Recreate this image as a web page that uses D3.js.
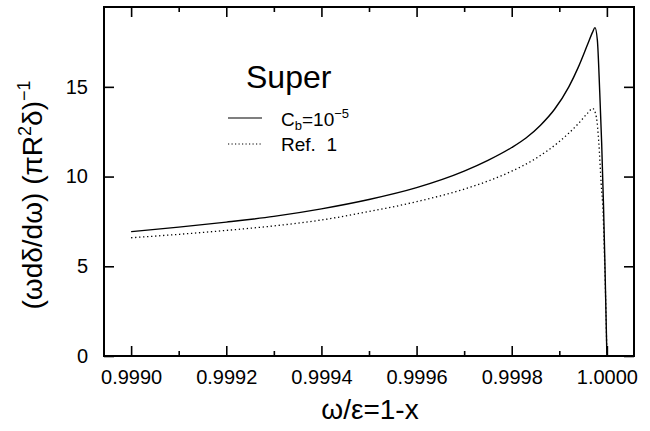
<!DOCTYPE html>
<html>
<head>
<meta charset="utf-8">
<style>
body { margin: 0; background: #fff; }
svg { font-family: "Liberation Sans", Arial, sans-serif; }
.axis .domain { display: none; }
.axis line { stroke: #000; stroke-width: 1.6; }
.axis text { font-size: 20px; fill: #000; }
</style>
</head>
<body>
<svg width="650" height="431"></svg>
<script src="https://d3js.org/d3.v7.min.js"></script>
<script>
// values
var solidX = [0.99900, 0.99910, 0.99920, 0.99930, 0.99940, 0.99950, 0.99960, 0.99970,
              0.99975, 0.99980, 0.99983, 0.99986, 0.99989, 0.99992, 0.99994, 0.99996,
              0.99997, 0.999975, 0.99998, 0.999985, 0.999989, 0.999993, 0.999996, 0.999998, 1.00000];
var solidY = [6.93, 7.18, 7.46, 7.78, 8.20, 8.72, 9.38, 10.30,
              10.90, 11.62, 12.15, 12.85, 13.75, 15.00, 16.10, 17.40,
              18.05, 18.30, 17.60, 14.70, 11.90, 8.30, 5.00, 2.50, 0];
var refX = [0.99900, 0.99910, 0.99920, 0.99930, 0.99940, 0.99950, 0.99960, 0.99970,
            0.99975, 0.99980, 0.99985, 0.99990, 0.99994, 0.99996, 0.99997, 0.999978,
            0.999983, 0.999988, 0.999992, 0.999995, 0.999998, 1.00000];
var refY = [6.59, 6.78, 7.00, 7.25, 7.58, 8.05, 8.60, 9.30,
            9.75, 10.30, 11.00, 11.95, 12.95, 13.55, 13.80, 13.30,
            11.90, 9.60, 8.00, 5.50, 2.50, 0];
var xMajor = [0.9990, 0.9992, 0.9994, 0.9996, 0.9998, 1.0000];
var xMinor = [0.9991, 0.9993, 0.9995, 0.9997, 0.9999];
var yMajor = [0, 5, 10, 15];

var svg = d3.select("svg"),
    margin = {top: 7, right: 16, bottom: 75, left: 104},
    width = +svg.attr("width") - margin.left - margin.right,
    height = +svg.attr("height") - margin.top - margin.bottom,
    g = svg.append("g").attr("transform", "translate(" + margin.left + "," + margin.top + ")");

var x = d3.scaleLinear().domain([0.998943, 1.000057]).range([0, width]);
var y = d3.scaleLinear().domain([0, 19.45]).range([height, 0]);

// frame
g.append("rect")
    .attr("width", width)
    .attr("height", height)
    .attr("fill", "none")
    .attr("stroke", "#000")
    .attr("stroke-width", 2);

g.append("g")
    .attr("class", "axis")
    .attr("transform", "translate(0," + height + ")")
    .call(d3.axisBottom(x).tickValues(xMajor).tickSize(-10).tickPadding(14)
      .tickFormat(d3.format(".4f")));
g.append("g")
    .attr("class", "axis")
    .attr("transform", "translate(0," + height + ")")
    .call(d3.axisBottom(x).tickValues(xMinor).tickSize(-5).tickFormat(""));
g.append("g")
    .attr("class", "axis")
    .call(d3.axisTop(x).tickValues(xMajor).tickSize(-10).tickFormat(""));
g.append("g")
    .attr("class", "axis")
    .call(d3.axisTop(x).tickValues(xMinor).tickSize(-5).tickFormat(""));
g.append("g")
    .attr("class", "axis")
    .call(d3.axisLeft(y).tickValues(yMajor).tickSize(-10).tickPadding(16));
g.append("g")
    .attr("class", "axis")
    .attr("transform", "translate(" + width + ",0)")
    .call(d3.axisRight(y).tickValues(yMajor).tickSize(-10).tickFormat(""));

var line = d3.line()
    .x(function(d) { return x(d[0]); })
    .y(function(d) { return y(d[1]); })
    .curve(d3.curveMonotoneX);

g.append("path")
    .datum(d3.zip(solidX, solidY))
    .attr("fill", "none")
    .attr("stroke", "#000")
    .attr("stroke-width", 1.4)
    .attr("d", line);
g.append("path")
    .datum(d3.zip(refX, refY))
    .attr("fill", "none")
    .attr("stroke", "#000")
    .attr("stroke-width", 1.3)
    .attr("stroke-dasharray", "1.3,2.7")
    .attr("d", line);

// title and legend
svg.append("text")
    .attr("x", 246)
    .attr("y", 88)
    .attr("font-size", 32)
    .text("Super");

svg.append("line")
    .attr("x1", 228).attr("x2", 262).attr("y1", 118).attr("y2", 118)
    .attr("stroke", "#000").attr("stroke-width", 1.2);
svg.append("line")
    .attr("x1", 228).attr("x2", 262).attr("y1", 144).attr("y2", 144)
    .attr("stroke", "#000").attr("stroke-width", 1.2)
    .attr("stroke-dasharray", "1.2,2.3");

var cb = svg.append("text")
    .attr("x", 281)
    .attr("y", 126)
    .attr("font-size", 19);
cb.append("tspan").text("C");
cb.append("tspan").attr("font-size", 13).attr("dy", 4).text("b");
cb.append("tspan").attr("dy", -4).text("=10");
cb.append("tspan").attr("font-size", 13).attr("dy", -8).text("−5");

svg.append("text")
    .attr("x", 281)
    .attr("y", 151)
    .attr("font-size", 19)
    .text("Ref.\u00a0 1");

// axis titles
svg.append("text")
    .attr("x", 370)
    .attr("y", 419)
    .attr("text-anchor", "middle")
    .attr("font-size", 28)
    .text("ω/ε=1-x");

var yl = svg.append("text")
    .attr("transform", "translate(42,195) rotate(-90)")
    .attr("text-anchor", "middle")
    .attr("font-size", 28);
yl.append("tspan").text("(ωdδ/dω)  (πR");
yl.append("tspan").attr("font-size", 18).attr("dy", -11).text("2");
yl.append("tspan").attr("dy", 11).text("δ)");
yl.append("tspan").attr("font-size", 18).attr("dy", -12).text("−1");
</script>
</body>
</html>
